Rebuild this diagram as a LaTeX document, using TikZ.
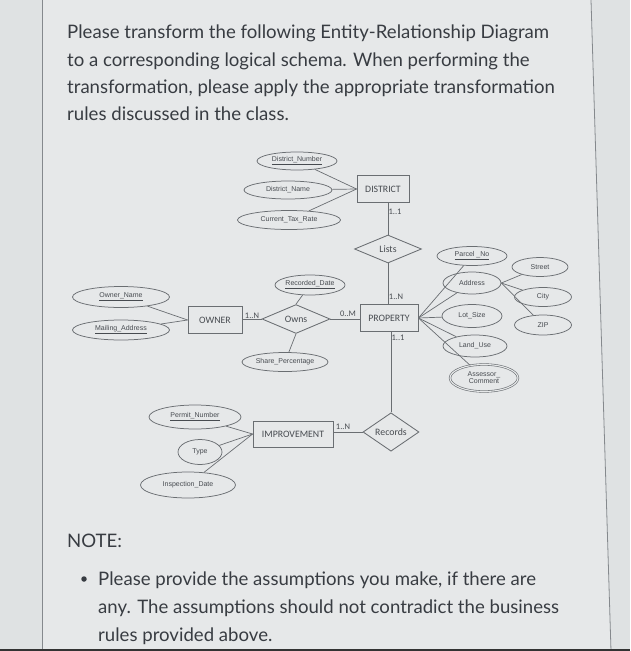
\documentclass[tikz,border=0pt]{standalone}
\usepackage{fontspec}
\setmainfont{Lato}
\newfontfamily\attrfont{Liberation Sans}
\newfontfamily\erfont{Carlito}
\usetikzlibrary{shapes.geometric}
\definecolor{bgout}{HTML}{DFE2E3}
\definecolor{bgin}{HTML}{E6E8E9}
\definecolor{framec}{HTML}{85898D}
\definecolor{txtc}{HTML}{383C42}
\definecolor{linec}{HTML}{6A6E72}
\definecolor{lblc}{HTML}{474B50}
\tikzset{
  maintext/.style={anchor=base west, inner sep=0pt, text=txtc, font=\fontsize{18.6}{22}\selectfont},
  attr/.style={ellipse, draw=linec, line width=0.75pt, inner sep=0pt, text=lblc, font=\attrfont\fontsize{7}{7.5}\selectfont},
  entity/.style={rectangle, draw=linec, line width=0.85pt, inner sep=0pt, text=lblc, font=\erfont\fontsize{9.8}{10}\selectfont},
  rel/.style={diamond, draw=linec, line width=0.85pt, inner sep=0pt, text=lblc, font=\erfont\fontsize{9.8}{10}\selectfont},
  card/.style={inner sep=0pt, text=lblc, font=\erfont\fontsize{8.5}{9}\selectfont},
  conn/.style={draw=linec, line width=0.7pt}
}
\begin{document}
\begin{tikzpicture}[x=1pt,y=-1pt]
\useasboundingbox (0,0) rectangle (630,651);
\fill[bgout] (0,0) rectangle (630,651);
\fill[bgin] (42,0) -- (591,0) -- (611,651) -- (42,651) -- cycle;
\draw[framec, line width=0.8pt] (42,0) -- (42,651);
\draw[framec, line width=0.8pt] (591,0) -- (611,651);
\fill[black!80] (0,648.5) rectangle (630,651);

% heading text
\node[maintext] (q1) at (67,38) {Please transform the following Entity-Relationship Diagram};
\node[maintext] (q2) at (67,66) {to a corresponding logical schema. When performing the};
\node[maintext] (q3) at (67,93) {transformation, please apply the appropriate transformation};
\node[maintext] (q4) at (67,120) {rules discussed in the class.};

% note
\node[maintext] (note) at (67,547) {NOTE:};
\node[circle, fill=txtc, minimum size=5.5pt, inner sep=0pt] (bullet) at (84,579) {};
\node[maintext] (n1) at (98,585) {Please provide the assumptions you make, if there are};
\node[maintext] (n2) at (98,613) {any. The assumptions should not contradict the business};
\node[maintext] (n3) at (98,641) {rules provided above.};

% entities
\node[entity, minimum width=52pt, minimum height=27pt] (district) at (383,189) {DISTRICT};
\node[entity, minimum width=58pt, minimum height=27pt] (property) at (389,318) {PROPERTY};
\node[entity, minimum width=54pt, minimum height=27pt] (owner) at (215,320) {OWNER};
\node[entity, minimum width=80pt, minimum height=26pt] (improvement) at (293,434) {IMPROVEMENT};

% relationships
\node[rel, minimum width=67pt, minimum height=28pt] (lists) at (388,249) {Lists};
\node[rel, minimum width=68pt, minimum height=28pt] (owns) at (296,319) {Owns};
\node[rel, minimum width=56pt, minimum height=30pt] (records) at (391,432) {Records};

% attributes of DISTRICT
\node[attr, minimum width=80pt, minimum height=18pt] (dnum) at (297,161) {\underline{District\_Number}};
\node[attr, minimum width=88pt, minimum height=18pt] (dname) at (288,190) {District\_Name};
\node[attr, minimum width=103pt, minimum height=19pt] (ctr) at (289,220) {Current\_Tax\_Rate};

% attributes of OWNER
\node[attr, minimum width=97pt, minimum height=21pt] (oname) at (121,297) {\underline{Owner\_Name}};
\node[attr, minimum width=97pt, minimum height=20pt] (mail) at (121,330) {\underline{Mailing\_Address}};

% attributes of Owns
\node[attr, minimum width=70pt, minimum height=20pt] (recdate) at (310,285) {\underline{Recorded\_Date}};
\node[attr, minimum width=86pt, minimum height=19pt] (share) at (285,362) {Share\_Percentage};

% attributes of IMPROVEMENT
\node[attr, minimum width=92pt, minimum height=24pt] (permit) at (195,417) {\underline{Permit\_Number}};
\node[attr, minimum width=44pt, minimum height=25pt] (type) at (200,452) {Type};
\node[attr, minimum width=95pt, minimum height=26pt] (insp) at (188,485) {Inspection\_Date};

% attributes of PROPERTY
\node[attr, minimum width=70pt, minimum height=19pt] (parcel) at (472,256) {\underline{Parcel \_No}};
\node[attr, minimum width=58pt, minimum height=22pt] (address) at (472,283) {Address};
\node[attr, minimum width=60pt, minimum height=23pt] (lot) at (472,316) {Lot\_Size};
\node[attr, minimum width=64pt, minimum height=22pt] (land) at (475,346) {Land\_Use};
\node[attr, double=bgin, double distance=1.1pt, line width=0.6pt, minimum width=68pt, minimum height=27pt, align=center, font=\attrfont\fontsize{7}{7.2}\selectfont] (assessor) at (484,378) {Assessor\_\\Comment};
\node[attr, minimum width=56pt, minimum height=19pt] (street) at (540,267) {Street};
\node[attr, minimum width=57pt, minimum height=19pt] (city) at (543,297) {City};
\node[attr, minimum width=57pt, minimum height=20pt] (zip) at (543,325) {ZIP};

% connectors
\draw[conn] (dnum) -- (district.west);
\draw[conn] (dname) -- (district.west);
\draw[conn] (ctr) -- (district.west);
\draw[conn] (oname) -- (owner.west);
\draw[conn] (mail) -- (owner.west);
\draw[conn] (recdate) -- (owns.north);
\draw[conn] (share) -- (owns.south);
\draw[conn] (permit) -- (improvement.west);
\draw[conn] (type) -- (improvement.west);
\draw[conn] (insp) -- (improvement.west);
\draw[conn] (parcel) -- (property.east);
\draw[conn] (address) -- (property.east);
\draw[conn] (lot) -- (property.east);
\draw[conn] (land) -- (property.east);
\draw[conn] (assessor) -- (property.east);
\draw[conn] (street) -- (address.east);
\draw[conn] (city) -- (address.east);
\draw[conn] (zip) -- (address.east);

\draw[conn] (lists.north) -- (lists.north |- district.south);
\draw[conn] (lists.south) -- (lists.south |- property.north);
\draw[conn] (owns.west) -- (owns.west -| owner.east);
\draw[conn] (owns.east) -- (owns.east -| property.west);
\draw[conn] (records.north) -- (records.north |- property.south);
\draw[conn] (records.west) -- (records.west -| improvement.east);

% cardinalities
\node[card] (c1) at (395,212) {1..1};
\node[card] (c2) at (396,297) {1..N};
\node[card] (c3) at (252,316) {1..N};
\node[card] (c4) at (348,314) {0..M};
\node[card] (c5) at (398,338) {1..1};
\node[card] (c6) at (343,427) {1..N};
\end{tikzpicture}
\end{document}
